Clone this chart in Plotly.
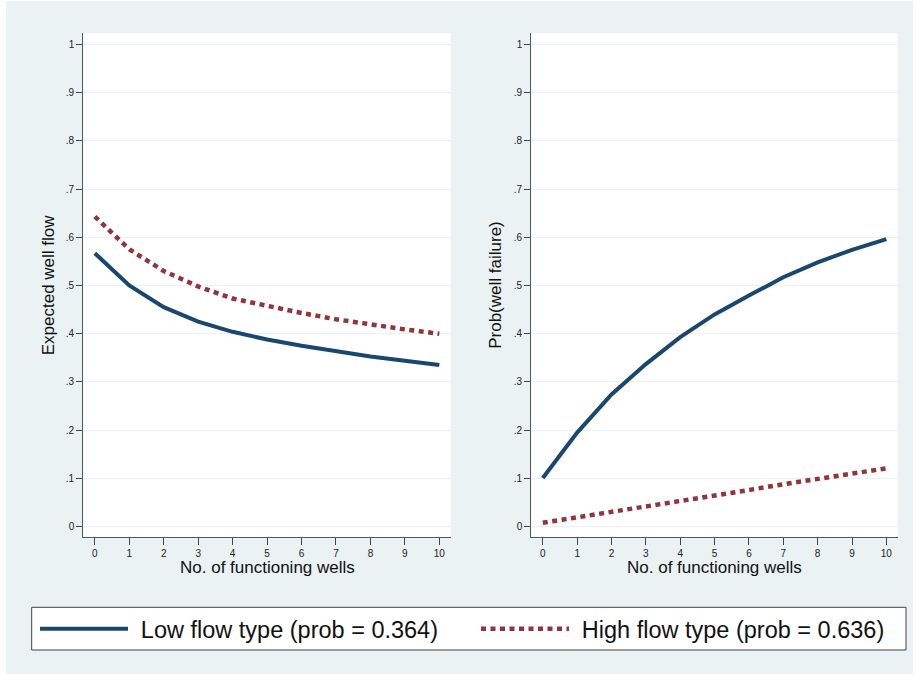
import plotly.graph_objects as go

# ---------------- data ----------------
wells = list(range(11))
xtick_vals = list(range(11))
ytick_vals = [0, .1, .2, .3, .4, .5, .6, .7, .8, .9, 1]
ytick_text = ["0", ".1", ".2", ".3", ".4", ".5", ".6", ".7", ".8", ".9", "1"]

flow_low = [0.567, 0.500, 0.455, 0.425, 0.404, 0.388, 0.375, 0.363, 0.353, 0.344, 0.335]
flow_high = [0.643, 0.575, 0.530, 0.498, 0.473, 0.457, 0.443, 0.430, 0.419, 0.409, 0.400]
fail_low = [0.101, 0.195, 0.274, 0.337, 0.393, 0.440, 0.479, 0.517, 0.548, 0.574, 0.596]
fail_high = [0.008, 0.019, 0.030, 0.041, 0.053, 0.064, 0.076, 0.088, 0.099, 0.110, 0.121]

label_low = "Low flow type (prob = 0.364)"
label_high = "High flow type (prob = 0.636)"
xtitle = "No. of functioning wells"
ytitle_left = "Expected well flow"
ytitle_right = "Prob(well failure)"

# ---------------- style ----------------
W, H = 917, 675
FONT = "Liberation Sans, Arial, sans-serif"
NAVY = "#1a476f"
MAROON = "#90353b"
BG = "#EAF2F3"


def px(x):
    return x / W


def py(y):
    return 1 - y / H


fig = go.Figure()

fig.add_trace(go.Scatter(x=wells, y=flow_low, mode="lines", name="\u2004" + label_low,
                         line=dict(color=NAVY, width=4), legendgroup="low",
                         xaxis="x", yaxis="y"))
fig.add_trace(go.Scatter(x=wells, y=flow_high, mode="lines", name="\u2004" + label_high,
                         line=dict(color=MAROON, width=4.5, dash="5px,4.5px"), legendgroup="high",
                         xaxis="x", yaxis="y"))
fig.add_trace(go.Scatter(x=wells, y=fail_low, mode="lines", name=label_low, showlegend=False,
                         line=dict(color=NAVY, width=4), legendgroup="low",
                         xaxis="x2", yaxis="y2"))
fig.add_trace(go.Scatter(x=wells, y=fail_high, mode="lines", name=label_high, showlegend=False,
                         line=dict(color=MAROON, width=4.5, dash="5px,4.5px"), legendgroup="high",
                         xaxis="x2", yaxis="y2"))

xcommon = dict(range=[-0.335, 10.33], tickvals=xtick_vals, ticks="outside", ticklen=7,
               tickwidth=1, tickcolor="#444", showline=True, linecolor="#555", linewidth=1.2,
               showgrid=False, zeroline=False, tickfont=dict(family=FONT, size=10, color="#222"))
ycommon = dict(range=[-0.022, 1.0228], tickvals=ytick_vals, ticktext=ytick_text, ticks="outside",
               ticklen=6, tickwidth=1, tickcolor="#444", showline=True, linecolor="#555",
               linewidth=1.2, showgrid=True, gridcolor=BG, gridwidth=1, zeroline=False,
               tickfont=dict(family=FONT, size=10, color="#222"))

ydom = [py(537.3), py(33.3)]
fig.update_layout(
    xaxis=dict(domain=[px(83.3), px(450.7)], anchor="y", **xcommon),
    yaxis=dict(domain=ydom, anchor="x", **ycommon),
    xaxis2=dict(domain=[px(531.3), px(897.7)], anchor="y2", **xcommon),
    yaxis2=dict(domain=ydom, anchor="x2", **ycommon),
)

annotations = [
    dict(text=xtitle, x=px(267), y=py(567), xanchor="center", yanchor="middle"),
    dict(text=xtitle, x=px(714.5), y=py(567), xanchor="center", yanchor="middle"),
    dict(text=ytitle_left, x=px(48), y=py(285.3), xanchor="center", yanchor="middle", textangle=-90),
    dict(text=ytitle_right, x=px(495.5), y=py(285.3), xanchor="center", yanchor="middle", textangle=-90),
]
for a in annotations:
    a.update(xref="paper", yref="paper", showarrow=False,
             font=dict(family=FONT, size=17, color="#111"))

shapes = [
    # legend frame
    dict(type="rect", xref="paper", yref="paper", x0=px(31.7), x1=px(906), y0=py(650), y1=py(607.3),
         fillcolor="white", line=dict(color="#404040", width=1), layer="below"),
    # thin white page border around the graph region
    dict(type="rect", xref="paper", yref="paper", x0=0, x1=px(6), y0=0, y1=1,
         fillcolor="white", line=dict(width=0), layer="above"),
    dict(type="rect", xref="paper", yref="paper", x0=px(913), x1=1, y0=0, y1=1,
         fillcolor="white", line=dict(width=0), layer="above"),
    dict(type="rect", xref="paper", yref="paper", x0=0, x1=1, y0=py(1), y1=1,
         fillcolor="white", line=dict(width=0), layer="above"),
    dict(type="rect", xref="paper", yref="paper", x0=0, x1=1, y0=0, y1=py(674),
         fillcolor="white", line=dict(width=0), layer="above"),
]

fig.update_layout(
    width=W, height=H,
    margin=dict(l=0, r=0, t=0, b=0, pad=0),
    paper_bgcolor=BG, plot_bgcolor="white",
    font=dict(family=FONT, color="#111"),
    annotations=annotations,
    shapes=shapes,
    legend=dict(orientation="h", x=px(35.7), xanchor="left", y=py(629), yanchor="middle",
                itemwidth=88, entrywidth=338, entrywidthmode="pixels",
                font=dict(family=FONT, size=23.5, color="#111"),
                bgcolor="rgba(0,0,0,0)", borderwidth=0, traceorder="normal"),
    showlegend=True,
)

fig.write_html("out.html")
